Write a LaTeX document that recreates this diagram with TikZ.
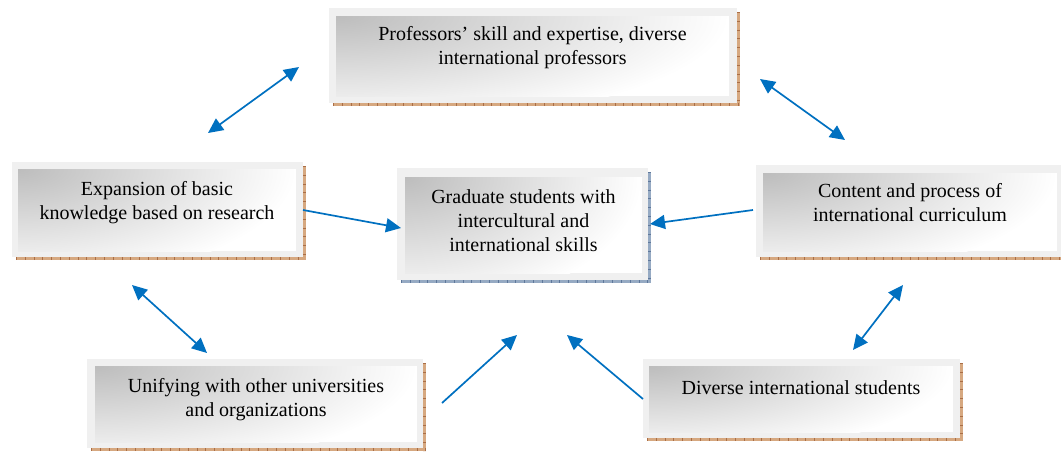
\documentclass[tikz,border=0pt]{standalone}
\usepackage{fontspec}
\setmainfont{Liberation Serif}
\usetikzlibrary{arrows.meta,positioning,shapes,calc,backgrounds}
\usepackage{xcolor}
\definecolor{arrowblue}{RGB}{0,112,192}
\definecolor{tanshadow}{RGB}{214,168,128}
\definecolor{tantick}{RGB}{170,110,70}
\definecolor{blueshadow}{RGB}{150,170,195}
\definecolor{bluetick}{RGB}{95,120,155}

\tikzset{
  frame/.style={fill=black!6},
  inner/.style={inner color=black!26, outer color=white},
  txt/.style={font=\fontsize{20}{24}\selectfont, align=center, inner sep=0pt},
  link/.style={draw=arrowblue, line width=1.7pt, -{Triangle[length=15pt,width=14pt]}},
  twolink/.style={link, {Triangle[length=15pt,width=14pt]}-{Triangle[length=15pt,width=14pt]}},
}

\begin{document}
\begin{tikzpicture}[x=1pt,y=-1pt]
    \useasboundingbox (0,0) rectangle (1061,453);
    % boxes: outer frame, shadow, inner shading
    \foreach \xa/\ya/\xb/\yb/\xi/\yi/\xj/\yj/\sc/\tc in {
      329/8/737/103/336/16/729/96/tanshadow/tantick,
      12/162/303/257/18/169/296/251/tanshadow/tantick,
      397/168/648/280/405/177/642/273/blueshadow/bluetick,
      87/359/423/448/95/366/417/442/tanshadow/tantick,
      643/359/960/438/649/366/953/432/tanshadow/tantick,
      756/165/1064/257/763/173/1057/251/tanshadow/tantick}{
      \fill[\sc] (\xa+4,\ya+4) rectangle (\xb+3,\yb+3);
      \draw[\tc, line width=3pt, dash pattern=on 0.8pt off 8pt] (\xa+4,\yb+1.5) -- (\xb+3,\yb+1.5);
      \draw[\tc, line width=3pt, dash pattern=on 0.8pt off 8pt] (\xb+1.5,\ya+4) -- (\xb+1.5,\yb+3);
      \fill[frame] (\xa,\ya) rectangle (\xb,\yb);
      \fill[white] (\xi,\yi) rectangle (\xj,\yj);
      \begin{scope}
        \clip (\xi,\yi) rectangle (\xj,\yj);
        \shade[inner] (\xi,\yi) ellipse ({1.0*(\xj-\xi)*1pt} and {1.4*(\yj-\yi)*1pt});
      \end{scope}
    }

    % texts
    \node[txt] (prof) at (532.5,48) {Professors’ skill and expertise, diverse\\international professors};
    \node[txt] (expan) at (157,203) {Expansion of basic\\knowledge based on research};
    \node[txt] (grad) at (523.5,221) {Graduate students with\\intercultural and\\international skills};
    \node[txt] (unify) at (256,400) {Unifying with other universities\\and organizations};
    \node[txt] (diverse) at (801,388) {Diverse international students};
    \node[txt] (content) at (910,203) {Content and process of\\international curriculum};

    % arrow ends
    \coordinate (a1s) at (208,133);  \coordinate (a1e) at (299,67);
    \coordinate (a2s) at (760,79);   \coordinate (a2e) at (845,140);
    \coordinate (a3s) at (132,285);  \coordinate (a3e) at (207,353);
    \coordinate (a4s) at (903,285);  \coordinate (a4e) at (853,350);
    \coordinate (a5s) at (303,210);  \coordinate (a5e) at (401,228);
    \coordinate (a6s) at (753,210);  \coordinate (a6e) at (650,224);
    \coordinate (a7s) at (442,403);  \coordinate (a7e) at (517,335);
    \coordinate (a8s) at (643,399);  \coordinate (a8e) at (567,335);

    \draw[twolink] (a1s) -- (a1e);
    \draw[twolink] (a2s) -- (a2e);
    \draw[twolink] (a3s) -- (a3e);
    \draw[twolink] (a4s) -- (a4e);
    \draw[link] (a5s) -- (a5e);
    \draw[link] (a6s) -- (a6e);
    \draw[link] (a7s) -- (a7e);
    \draw[link] (a8s) -- (a8e);
\end{tikzpicture}
\end{document}
